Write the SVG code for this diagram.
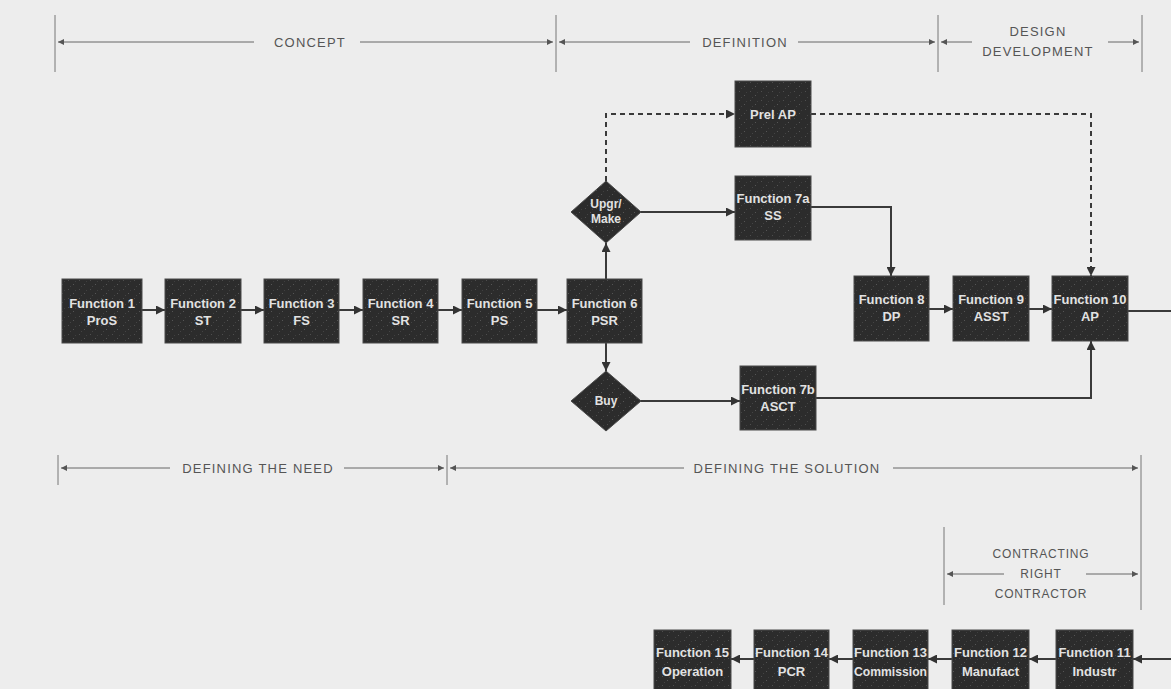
<svg xmlns="http://www.w3.org/2000/svg" width="1171" height="689" viewBox="0 0 1171 689">
<style>
.bg{fill:#ededed}
.box{fill:url(#grain);stroke:#4a4a4a;stroke-width:1}
.ft{font-family:"Liberation Sans",Arial,sans-serif;font-weight:bold;font-size:13px;fill:#e2e2e2;text-anchor:middle}
.lb{font-family:"Liberation Sans",Arial,sans-serif;font-size:13px;letter-spacing:1.2px;fill:#555;text-anchor:middle}
.lbs{font-family:"Liberation Sans",Arial,sans-serif;font-size:12px;letter-spacing:0.8px;fill:#555;text-anchor:middle}
.c{fill:none;stroke:#3a3a3a;stroke-width:2}
.d{fill:none;stroke:#3a3a3a;stroke-width:2;stroke-dasharray:5,4}
.t{fill:none;stroke:#666;stroke-width:1}
.k{fill:none;stroke:#777;stroke-width:1}
</style>
<defs>
<pattern id="grain" width="11" height="9" patternUnits="userSpaceOnUse">
<rect width="11" height="9" fill="#2c2c2c"/>
<rect x="2" y="1" width="1" height="1" fill="#4e4e4e"/>
<rect x="7" y="5" width="1" height="1" fill="#555"/>
<rect x="4" y="7" width="1" height="1" fill="#444"/>
<rect x="9" y="2" width="1" height="1" fill="#3f3f3f"/>
</pattern>
<marker id="a" viewBox="0 0 10 10" refX="10" refY="5" markerWidth="9" markerHeight="9" markerUnits="userSpaceOnUse" orient="auto"><path d="M0,0 L10,5 L0,10 z" fill="#333"/></marker>
<marker id="s" viewBox="0 0 10 10" refX="10" refY="5" markerWidth="8" markerHeight="6" markerUnits="userSpaceOnUse" orient="auto-start-reverse"><path d="M0,0 L10,5 L0,10 z" fill="#555"/></marker>
</defs>
<rect class="bg" x="0" y="0" width="1171" height="689"/>

<g id="phase-labels">
<path class="k" d="M55,15V72M556,15V72M938,15V72M1142,15V72"/>
<path class="t" d="M58,42H254" marker-start="url(#s)"/>
<path class="t" d="M360,42H553" marker-end="url(#s)"/>
<text class="lb" x="310" y="47">CONCEPT</text>
<path class="t" d="M559,42H690" marker-start="url(#s)"/>
<path class="t" d="M798,42H935" marker-end="url(#s)"/>
<text class="lb" x="745" y="47">DEFINITION</text>
<path class="t" d="M941,42H972" marker-start="url(#s)"/>
<path class="t" d="M1108,42H1139" marker-end="url(#s)"/>
<text class="lb" x="1038" y="36">DESIGN</text>
<text class="lb" x="1038" y="56">DEVELOPMENT</text>

<path class="k" d="M58,455V485M447,455V485M1141,455V610M944,527V605"/>
<path class="t" d="M61,468H170" marker-start="url(#s)"/>
<path class="t" d="M344,468H444" marker-end="url(#s)"/>
<text class="lb" x="258" y="473">DEFINING THE NEED</text>
<path class="t" d="M450,468H684" marker-start="url(#s)"/>
<path class="t" d="M893,468H1138" marker-end="url(#s)"/>
<text class="lb" x="787" y="473">DEFINING THE SOLUTION</text>
<text class="lbs" x="1041" y="558">CONTRACTING</text>
<text class="lbs" x="1041" y="578">RIGHT</text>
<text class="lbs" x="1041" y="598">CONTRACTOR</text>
<path class="t" d="M947,574H1004" marker-start="url(#s)"/>
<path class="t" d="M1086,574H1138" marker-end="url(#s)"/>
</g>

<g id="connectors">
<path class="c" d="M142,310H165" marker-end="url(#a)"/>
<path class="c" d="M241,310H264" marker-end="url(#a)"/>
<path class="c" d="M339,310H363" marker-end="url(#a)"/>
<path class="c" d="M438,310H462" marker-end="url(#a)"/>
<path class="c" d="M537,310H567" marker-end="url(#a)"/>
<path class="c" d="M606,279V243" marker-end="url(#a)"/>
<path class="c" d="M606,343V371" marker-end="url(#a)"/>
<path class="d" d="M606,181V114H735" marker-end="url(#a)"/>
<path class="d" d="M811,114H1091V276" marker-end="url(#a)"/>
<path class="c" d="M640,212H735" marker-end="url(#a)"/>
<path class="c" d="M811,207H891V276" marker-end="url(#a)"/>
<path class="c" d="M640,401H740" marker-end="url(#a)"/>
<path class="c" d="M816,398H1091V341" marker-end="url(#a)"/>
<path class="c" d="M929,309H953" marker-end="url(#a)"/>
<path class="c" d="M1029,309H1052" marker-end="url(#a)"/>
<path class="c" d="M1128,311H1171"/>
<path class="c" d="M1171,659H1133" marker-end="url(#a)"/>
<path class="c" d="M1056,659H1029" marker-end="url(#a)"/>
<path class="c" d="M952,659H928" marker-end="url(#a)"/>
<path class="c" d="M853,659H829" marker-end="url(#a)"/>
<path class="c" d="M754,659H731" marker-end="url(#a)"/>
</g>

<g id="f1"><rect class="box" x="62" y="279" width="80" height="64"/><text class="ft" x="102" y="307.5">Function 1</text><text class="ft" x="102" y="324.5">ProS</text></g>
<g id="f2"><rect class="box" x="165" y="279" width="76" height="64"/><text class="ft" x="203" y="307.5">Function 2</text><text class="ft" x="203" y="324.5">ST</text></g>
<g id="f3"><rect class="box" x="264" y="279" width="75" height="64"/><text class="ft" x="301.5" y="307.5">Function 3</text><text class="ft" x="301.5" y="324.5">FS</text></g>
<g id="f4"><rect class="box" x="363" y="279" width="75" height="64"/><text class="ft" x="400.5" y="307.5">Function 4</text><text class="ft" x="400.5" y="324.5">SR</text></g>
<g id="f5"><rect class="box" x="462" y="279" width="75" height="64"/><text class="ft" x="499.5" y="307.5">Function 5</text><text class="ft" x="499.5" y="324.5">PS</text></g>
<g id="f6"><rect class="box" x="567" y="279" width="75" height="64"/><text class="ft" x="604.5" y="307.5">Function 6</text><text class="ft" x="604.5" y="324.5">PSR</text></g>
<g id="upgr"><polygon class="box" points="606,181 641,212 606,243 571,212"/><text class="ft" x="606" y="208" style="font-size:12px">Upgr/</text><text class="ft" x="606" y="223" style="font-size:12px">Make</text></g>
<g id="buy"><polygon class="box" points="606,371 641,401 606,431 571,401"/><text class="ft" x="606" y="405" style="font-size:12px">Buy</text></g>
<g id="prelap"><rect class="box" x="735" y="81" width="76" height="66"/><text class="ft" x="773" y="118.5">Prel AP</text></g>
<g id="f7a"><rect class="box" x="735" y="176" width="76" height="64"/><text class="ft" x="773" y="203">Function 7a</text><text class="ft" x="773" y="220">SS</text></g>
<g id="f7b"><rect class="box" x="740" y="366" width="76" height="64"/><text class="ft" x="778" y="394">Function 7b</text><text class="ft" x="778" y="411">ASCT</text></g>
<g id="f8"><rect class="box" x="854" y="276" width="75" height="65"/><text class="ft" x="891.5" y="303.5">Function 8</text><text class="ft" x="891.5" y="321">DP</text></g>
<g id="f9"><rect class="box" x="953" y="276" width="76" height="65"/><text class="ft" x="991" y="303.5">Function 9</text><text class="ft" x="991" y="321">ASST</text></g>
<g id="f10"><rect class="box" x="1052" y="276" width="76" height="65"/><text class="ft" x="1090" y="303.5">Function 10</text><text class="ft" x="1090" y="321">AP</text></g>
<g id="f11"><rect class="box" x="1056" y="630" width="77" height="64"/><text class="ft" x="1094.5" y="657">Function 11</text><text class="ft" x="1094.5" y="676">Industr</text></g>
<g id="f12"><rect class="box" x="952" y="630" width="77" height="64"/><text class="ft" x="990.5" y="657">Function 12</text><text class="ft" x="990.5" y="676">Manufact</text></g>
<g id="f13"><rect class="box" x="853" y="630" width="75" height="64"/><text class="ft" x="890.5" y="657">Function 13</text><text class="ft" x="890.5" y="676" textLength="73" lengthAdjust="spacingAndGlyphs">Commission</text></g>
<g id="f14"><rect class="box" x="754" y="630" width="75" height="64"/><text class="ft" x="791.5" y="657">Function 14</text><text class="ft" x="791.5" y="676">PCR</text></g>
<g id="f15"><rect class="box" x="654" y="630" width="77" height="64"/><text class="ft" x="692.5" y="657">Function 15</text><text class="ft" x="692.5" y="676">Operation</text></g>
</svg>
